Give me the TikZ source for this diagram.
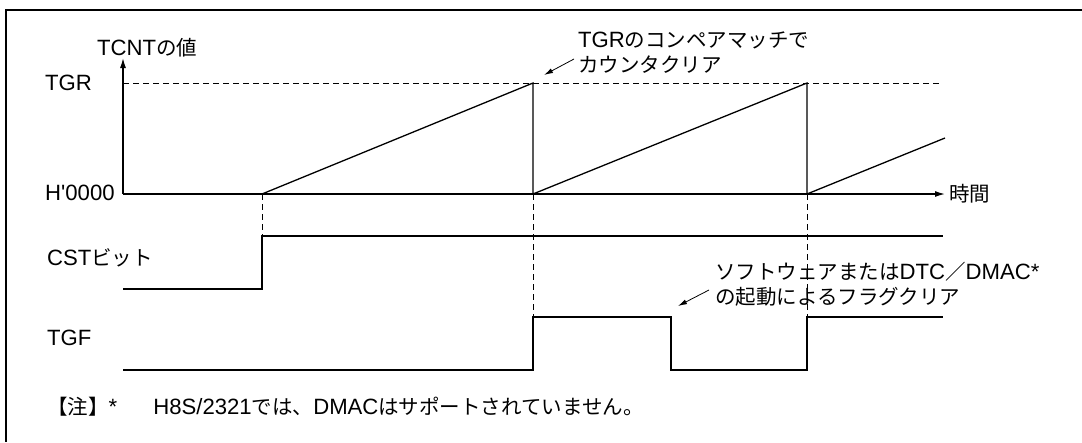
\documentclass[tikz,border=0pt]{standalone}
\usepackage{fontspec}
\setmainfont{Liberation Sans}[Scale=1.08]
\newfontfamily\jp{Noto Sans CJK JP}
\usetikzlibrary{arrows.meta,positioning,calc}

\begin{document}
\begin{tikzpicture}[x=1pt,y=-1pt,>={Latex[length=10pt,width=6pt]},
    lbl/.style={anchor=west,inner sep=0pt,font=\fontsize{20.5}{25}\selectfont},
    sig/.style={line width=1.3pt},
    guide/.style={line width=0.8pt,dash pattern=on 6pt off 4pt},
    callout/.style={line width=0.8pt,-{Latex[length=9pt,width=5pt]}}]
  \useasboundingbox (0,0) rectangle (1082,442);
  % frame
  \draw[line width=2.5pt] (1082,10) -- (6,10) -- (6,442);

  % axes
  \coordinate (O) at (123,194);
  \coordinate (ytop) at (123,58);
  \coordinate (xend) at (945,194);
  \coordinate (s1) at (262,194);
  \coordinate (r1) at (533,194);
  \coordinate (r2) at (807,194);
  \draw[sig,->] (O) -- (ytop);
  \draw[sig,->] (O) -- (xend);
  \draw[guide] (123,83) -- (940,83);

  % TCNT
  \draw[sig] (s1) -- (533,83) -- (r1) -- (807,83) -- (r2) -- (945,138);

  % CST bit
  \draw[sig] (123,289) -- (262,289) -- (262,236) -- (943,236);

  % TGF
  \draw[sig] (123,370) -- (533,370) -- (533,317) -- (671,317)
    -- (671,370) -- (807,370) -- (807,317) -- (943,317);

  % guides
  \draw[guide] (s1) -- (262,236);
  \draw[guide] (r1) -- (533,317);
  \draw[guide] (r2) -- (807,317);

  % labels
  \node[lbl] (ylab) at (97,48) {TCNT{\jp の値}};
  \node[lbl] (tgr) at (45,83) {TGR};
  \node[lbl] (zero) at (45,193) {H\textquotesingle0000};
  \node[lbl] (cst) at (47,258) {CST{\jp ビット}};
  \node[lbl] (tgf) at (47,338) {TGF};
  \node[lbl] (time) at (949,194) {\jp 時間};
  \node[lbl,align=left] (clr) at (578,52.5)
    {TGR{\jp のコンペアマッチで}\\{\jp カウンタクリア}};
  \node[lbl,align=left] (flag) at (715,284.5)
    {{\jp ソフトウェアまたは}DTC{\jp ／}DMAC*\\{\jp の起動によるフラグクリア}};
  \node[lbl] (note) at (47,407)
    {{\jp 【注】}*\hspace{36pt}H8S/2321{\jp では、}DMAC{\jp はサポートされていません。}};

  % callouts
  \draw[callout] ($(clr.west)+(-4,6.5)$) -- ++(-30,16);
  \draw[callout] ($(flag.west)+(-6,5.5)$) -- ++(-31,16);
\end{tikzpicture}
\end{document}
